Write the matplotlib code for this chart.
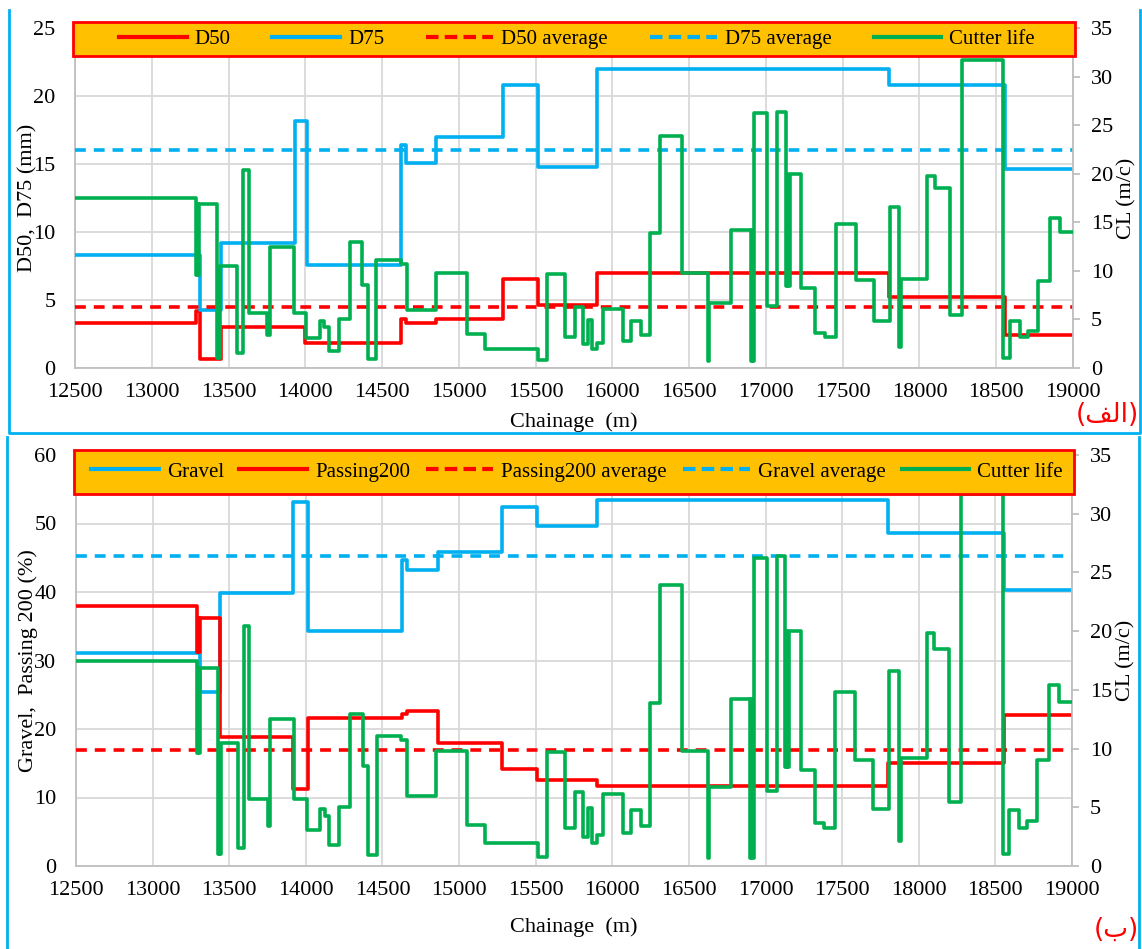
import matplotlib
matplotlib.use("Agg")
import matplotlib.pyplot as plt
from matplotlib.lines import Line2D
from matplotlib.patches import Rectangle

plt.rcParams['font.family'] = ['Liberation Serif', 'DejaVu Sans']

# ---- data (chainage breakpoints, step values) ----
d50_ch = [12500, 13290, 13312, 13450, 14000, 14625, 14655, 14850, 15285, 15513, 15900, 17800, 18555, 19000]
d50_val = [3.3, 4.2, 0.65, 3.0, 1.85, 3.6, 3.3, 3.6, 6.55, 4.6, 7.0, 5.2, 2.45, 2.45]

d75_ch = [12500, 13312, 13450, 13930, 14013, 14625, 14655, 14850, 15285, 15513, 15900, 17800, 18555, 19000]
d75_val = [8.3, 4.25, 9.2, 18.15, 7.55, 16.4, 15.05, 17.0, 20.8, 14.8, 21.95, 20.8, 14.6, 14.6]

d50_avg = 4.5
d75_avg = 16.0

gravel_ch = [12500, 13306, 13440, 13916, 14012, 14625, 14657, 14864, 15280, 15511, 15899, 17800, 18555, 19000]
gravel_val = [31.05, 25.4, 39.8, 53.2, 34.3, 44.6, 43.2, 45.9, 52.4, 49.7, 53.5, 48.6, 40.35, 40.35]

p200_ch = [12500, 13290, 13296, 13300, 13306, 13440, 13916, 14012, 14625, 14657, 14864, 15280, 15511, 15899, 17800, 18555, 19000]
p200_val = [38.0, 31.2, 36.2, 31.2, 36.2, 18.8, 11.2, 21.6, 22.2, 22.6, 18.0, 14.1, 12.6, 11.75, 15.05, 22.0, 22.0]

gravel_avg = 45.3
p200_avg = 17.0

cl_ch = [12500, 13290, 13296, 13302, 13308, 13424, 13432, 13438, 13446, 13555, 13594, 13631,
         13751, 13768, 13925, 14007, 14094, 14125, 14153, 14218, 14290, 14370, 14407, 14462,
         14621, 14660, 14849, 15052, 15169, 15517, 15574, 15691, 15759, 15807, 15839, 15865,
         15900, 15937, 16067, 16122, 16187, 16248, 16313, 16453, 16622, 16632, 16775, 16900,
         16908, 16914, 16924, 17010, 17072, 17129, 17137, 17143, 17155, 17231, 17322, 17383,
         17455, 17586, 17703, 17808, 17869, 17882, 18051, 18101, 18199, 18275, 18547, 18591,
         18656, 18706, 18771, 18848, 18917, 19000]
cl_val = [17.45, 9.6, 16.9, 9.6, 16.9, 1.0, 5.0, 1.0, 10.5, 1.55, 20.4, 5.7,
          3.4, 12.5, 5.7, 3.1, 4.86, 4.24, 1.76, 5.0, 12.95, 8.5, 0.9, 11.1,
          10.7, 5.95, 9.8, 3.5, 2.0, 0.8, 9.7, 3.2, 6.3, 2.5, 4.9, 1.98,
          2.6, 6.1, 2.8, 4.8, 3.4, 13.9, 23.9, 9.8, 0.7, 6.7, 14.2, 0.7,
          14.2, 0.7, 26.2, 6.4, 26.4, 8.4, 20.0, 8.4, 20.0, 8.2, 3.65, 3.2,
          14.8, 9.05, 4.87, 16.6, 2.15, 9.2, 19.8, 18.5, 5.45, 31.7, 1.0, 4.8,
          3.2, 3.85, 9.0, 15.4, 13.95, 13.95]

x_ticks = list(range(12500, 19001, 500))

RED = '#FF0000'
BLUE = '#00B0F0'
GREEN = '#00B050'
GRID = '#D9D9D9'
W, H = 1142, 949
FS = 16
FS_LEG = 15

fig = plt.figure(figsize=(W / 100, H / 100), dpi=100)


def make_panel(rect, left_max, left_step, ylabel, series, averages, legend_order,
               x_lab_y, box, leg_y, colsp):
    ax = fig.add_axes(rect)
    for ch, val, col in series:
        ax.step(ch, val, where='post', color=col, lw=2.6, zorder=3)
    for val, col in averages:
        ax.plot([12500, 19000], [val, val], color=col, lw=2.6, ls=(0, (3, 2.2)), zorder=3)
    ax.set_xlim(12500, 19000)
    ax.set_ylim(0, left_max)
    ax.set_xticks(x_ticks)
    ax.set_yticks(range(0, left_max + 1, left_step))
    ax.grid(True, color=GRID, lw=1.3)
    ax.set_axisbelow(True)
    for s in ['top', 'right']:
        ax.spines[s].set_visible(False)
    for s in ['left', 'bottom']:
        ax.spines[s].set_color('#BFBFBF')
        ax.spines[s].set_linewidth(1.3)
    ax.tick_params(axis='x', length=0, pad=11, labelsize=FS)
    ax.tick_params(axis='y', length=0, pad=14, labelsize=FS)
    ax.set_ylabel(ylabel, fontsize=FS)
    ax.yaxis.set_label_coords(-0.038, 0.5)
    ax.set_xlabel('Chainage  (m)', fontsize=FS)
    ax.xaxis.set_label_coords(0.5, x_lab_y)

    ax2 = ax.twinx()
    ax2.step(cl_ch, cl_val, where='post', color=GREEN, lw=2.6, zorder=4)
    ax2.set_ylim(0, 35)
    ax2.set_yticks(range(0, 36, 5))
    for s in ['top', 'left', 'bottom']:
        ax2.spines[s].set_visible(False)
    ax2.spines['right'].set_color('#BFBFBF')
    ax2.spines['right'].set_linewidth(1.3)
    ax2.tick_params(axis='y', length=5, color='#BFBFBF', width=1.3, pad=8, labelsize=FS)
    ax2.set_ylabel('CL (m/c)', fontsize=FS)
    ax2.yaxis.set_label_coords(1.044, 0.5)

    # orange legend band across the plot width
    ax2.add_patch(Rectangle((-0.002, box[0]), 1.004, box[1] - box[0], transform=ax2.transAxes,
                            facecolor='#FFC000', edgecolor=RED, lw=2, clip_on=False, zorder=9))
    handles = [Line2D([], [], color=c, lw=3, ls=ls) for c, ls in legend_order[1]]
    leg = ax2.legend(handles, legend_order[0], loc='center', bbox_to_anchor=(0.503, leg_y),
                     ncol=5, fontsize=FS_LEG, frameon=False, handlelength=3.25,
                     handletextpad=0.38, columnspacing=colsp, borderaxespad=0)
    leg.set_zorder(10)
    return ax, ax2


dash = (0, (3, 1.5))
top_rect = [75 / W, 1 - 368 / H, 998 / W, 340 / H]
bot_rect = [76 / W, 1 - 866 / H, 996 / W, 411 / H]

make_panel(top_rect, 25, 5, 'D50,  D75 (mm)',
           [(d50_ch, d50_val, RED), (d75_ch, d75_val, BLUE)],
           [(d50_avg, RED), (d75_avg, BLUE)],
           (['D50', 'D75', 'D50 average', 'D75 average', 'Cutter life'],
            [(RED, '-'), (BLUE, '-'), (RED, dash), (BLUE, dash), (GREEN, '-')]),
           -0.13, ((368 - 56) / 340, (368 - 22) / 340), (368 - 39) / 340, 2.0)

make_panel(bot_rect, 60, 10, 'Gravel,  Passing 200 (%)',
           [(gravel_ch, gravel_val, BLUE), (p200_ch, p200_val, RED)],
           [(p200_avg, RED), (gravel_avg, BLUE)],
           (['Gravel', 'Passing200', 'Passing200 average', 'Gravel average', 'Cutter life'],
            [(BLUE, '-'), (RED, '-'), (RED, dash), (BLUE, dash), (GREEN, '-')]),
           -0.125, ((866 - 494) / 411, (866 - 450) / 411), (866 - 472) / 411, 0.75)


# panel frames (blue)
def fig_line(xs, ys):
    fig.add_artist(Line2D([x / W for x in xs], [1 - y / H for y in ys],
                          transform=fig.transFigure, color=BLUE, lw=2))


fig_line([9, 9, 1140, 1140], [10, 433, 433, 10])
fig_line([7, 7], [437, 949])
fig_line([1139, 1139], [437, 949])

# panel tags (Persian)
fig.text(1139 / W, 1 - 415 / H, '(\ufed2\ufedf\ufe8d)', color=RED, fontsize=19,
         ha='right', va='center', family=['DejaVu Sans'])
fig.text(1139 / W, 1 - 930 / H, '(\ufe8f)', color=RED, fontsize=19,
         ha='right', va='center', family=['DejaVu Sans'])

fig.savefig('out.png', dpi=100)
